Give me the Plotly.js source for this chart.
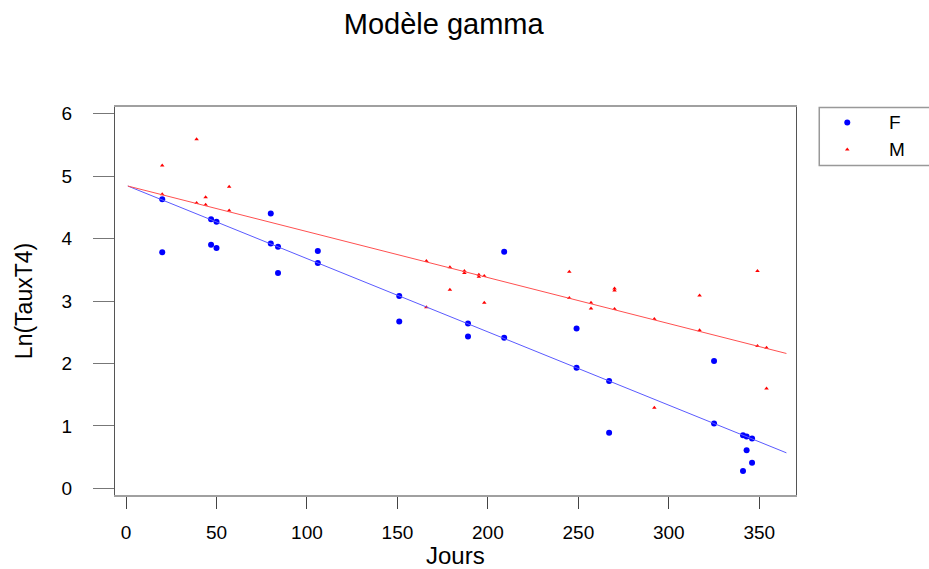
<!DOCTYPE html>
<html>
<head>
<meta charset="utf-8">
<script src="https://cdn.plot.ly/plotly-3.0.1.min.js"></script>
<style>html,body{margin:0;padding:0;background:#fff;}#chart{width:929px;height:569px;}</style>
</head>
<body>
<div id="chart"></div>
<script>
// Data
var fJours = [20, 20, 47, 50, 47, 50, 80, 80, 84, 84, 106, 106,
              151, 151, 189, 189, 209, 209,
              249, 249, 267, 267, 325, 325, 341, 343, 346, 343, 346, 341];
var fLn = [4.63, 3.78, 4.31, 4.27, 3.90, 3.85, 4.40, 3.92, 3.87, 3.45, 3.80, 3.61,
           3.08, 2.67, 2.64, 2.43, 3.79, 2.41,
           2.56, 1.93, 1.72, 0.89, 2.04, 1.04, 0.85, 0.83, 0.80, 0.61, 0.41, 0.28];
var mJours = [20, 39, 20, 44, 39, 44, 57, 57,
              166, 166, 179, 179, 187, 187, 195, 195, 198, 198,
              245, 245, 270, 270, 257, 257, 270, 292, 292, 317, 317, 349, 349, 354, 354];
var mLn = [5.17, 5.59, 4.71, 4.66, 4.57, 4.54, 4.83, 4.45,
           3.64, 2.90, 3.54, 3.18, 3.48, 3.45, 3.42, 3.39, 3.40, 2.97,
           3.47, 3.05, 3.20, 3.17, 2.97, 2.88, 2.87, 2.71, 1.29, 3.09, 2.53, 3.48, 2.28, 2.25, 1.60];
// fitted lines (endpoints)
var fitJours = [1, 365];
var fitF = [4.84, 0.57];
var fitM = [4.84, 2.16];
var xTicks = [0, 50, 100, 150, 200, 250, 300, 350];
var yTicks = [0, 1, 2, 3, 4, 5, 6];
var legendNames = ['F', 'M'];

var W = 929, H = 569;
var L = 115.3, R = 795.7, T = 106.7, B = 495.3;
var paperW = W - L;
var plotFrac = (R - L) / paperW;
var legL = 819.3, legT = 107.3, legB = 165.3;
var legX0 = (legL - L) / paperW;
var paperH = B - T;
var legY1 = (B - legT) / paperH, legY0 = (B - legB) / paperH;

var font = 'Liberation Sans, Arial, sans-serif';

var traces = [
  {x: fJours, y: fLn, type: 'scatter', mode: 'markers', name: 'F',
   marker: {color: '#0000ff', size: 6, symbol: 'circle'}},
  {x: mJours, y: mLn, type: 'scatter', mode: 'markers', name: 'M',
   marker: {color: '#ff0000', size: 4, symbol: 'triangle-up'}},
  {x: fitJours, y: fitF, type: 'scatter', mode: 'lines', name: 'fit F',
   line: {color: '#5a5aff', width: 1}},
  {x: fitJours, y: fitM, type: 'scatter', mode: 'lines', name: 'fit M',
   line: {color: '#ff5050', width: 1}},
  // legend symbols (overlay axis measured in pixels within the legend box)
  {x: [28], y: [58 - 15], type: 'scatter', mode: 'markers',
   xaxis: 'x2', yaxis: 'y2', hoverinfo: 'skip', cliponaxis: false,
   marker: {color: '#0000ff', size: 6, symbol: 'circle'}},
  {x: [28], y: [58 - 42], type: 'scatter', mode: 'markers',
   xaxis: 'x2', yaxis: 'y2', hoverinfo: 'skip', cliponaxis: false,
   marker: {color: '#ff0000', size: 4, symbol: 'triangle-up'}}
];

var layout = {
  width: W, height: H,
  margin: {l: L, r: 0, t: T, b: H - B, pad: 0},
  paper_bgcolor: '#fff', plot_bgcolor: '#fff',
  showlegend: false,
  font: {family: font, color: '#000', size: 19},
  title: {text: 'Modèle gamma', font: {family: font, size: 29, color: '#000'},
          xref: 'container', x: 443.7 / W, xanchor: 'center',
          yref: 'container', y: 1 - 24 / H, yanchor: 'middle'},
  xaxis: {domain: [0, plotFrac], range: [-6.1, 370.1], autorange: false,
          tickmode: 'array', tickvals: xTicks, ticktext: xTicks.map(String),
          ticks: 'outside', ticklen: 12, tickcolor: '#444', tickwidth: 1,
          ticklabelstandoff: 7,
          showgrid: false, zeroline: false,
          showline: true, mirror: true, linecolor: '#a0a0a0', linewidth: 2,
          tickfont: {family: font, size: 19, color: '#000'},
          title: {text: 'Jours', font: {family: font, size: 24, color: '#000'}, standoff: 8}},
  yaxis: {range: [-0.105, 6.105], autorange: false,
          tickmode: 'array', tickvals: yTicks, ticktext: yTicks.map(String),
          ticks: 'outside', ticklen: 21, tickcolor: '#777', tickwidth: 1,
          ticklabelstandoff: 17,
          showgrid: false, zeroline: false,
          showline: true, mirror: true, linecolor: '#555', linewidth: 1,
          tickfont: {family: font, size: 19, color: '#000'},
          title: {text: 'Ln(TauxT4)', font: {family: font, size: 23, color: '#000'}, standoff: 22}},
  xaxis2: {domain: [legX0, 1], range: [0, W - legL], autorange: false, visible: false, fixedrange: true},
  yaxis2: {domain: [legY0, legY1], range: [0, legB - legT], autorange: false, visible: false, fixedrange: true, anchor: 'x2'},
  shapes: [
    {type: 'rect', xref: 'paper', yref: 'paper', x0: legX0, x1: legX0 + (W + 20 - legL) / paperW,
     y0: legY0, y1: legY1, line: {color: '#999', width: 1.5}, fillcolor: 'rgba(0,0,0,0)'}
  ],
  annotations: [
    {text: legendNames[0], xref: 'paper', yref: 'paper', x: (887 - L) / paperW, y: (B - 122.3) / paperH,
     xanchor: 'left', yanchor: 'middle', showarrow: false, font: {family: font, size: 19, color: '#000'}},
    {text: legendNames[1], xref: 'paper', yref: 'paper', x: (887 - L) / paperW, y: (B - 149.3) / paperH,
     xanchor: 'left', yanchor: 'middle', showarrow: false, font: {family: font, size: 19, color: '#000'}}
  ]
};

Plotly.newPlot('chart', traces, layout, {staticPlot: true, displayModeBar: false});
</script>
</body>
</html>
